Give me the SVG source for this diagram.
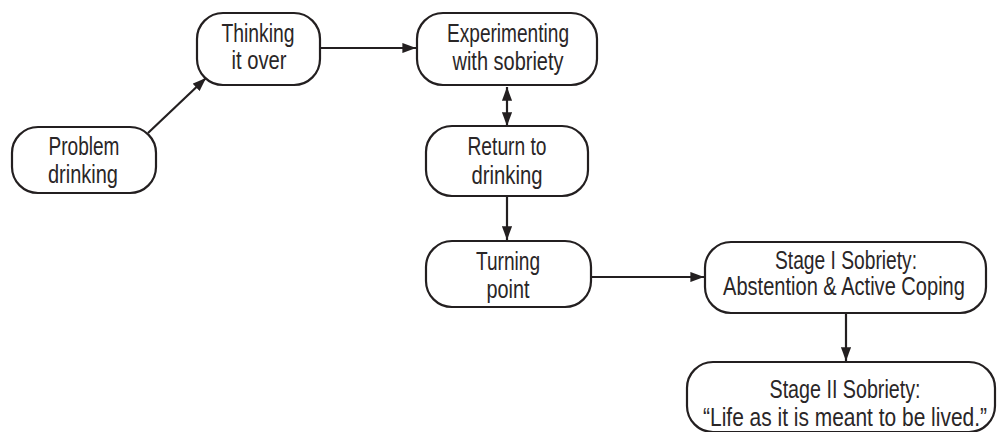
<svg xmlns="http://www.w3.org/2000/svg" width="997" height="432" viewBox="0 0 997 432">
<defs>
<style>
.box{fill:#fff;stroke:#231f20;stroke-width:2.2}
.t{font-family:"Liberation Sans",Arial,sans-serif;font-size:25px;fill:#2a2627;text-anchor:middle}
.c{stroke:#231f20;stroke-width:2.2;fill:none}
</style>
<marker id="ah" viewBox="0 0 10 10" refX="10" refY="5" markerWidth="6.2" markerHeight="4.6" orient="auto-start-reverse" markerUnits="strokeWidth" preserveAspectRatio="none">
<path d="M0,0 L10,5 L0,10 Z" fill="#231f20"/>
</marker>
</defs>
<rect width="997" height="432" fill="#fff"/>
<g id="connectors">
<line class="c" x1="148" y1="133" x2="206" y2="78" marker-end="url(#ah)"/>
<line class="c" x1="320" y1="48" x2="416" y2="48" marker-end="url(#ah)"/>
<line class="c" x1="507" y1="87" x2="507" y2="126" marker-start="url(#ah)" marker-end="url(#ah)"/>
<line class="c" x1="507" y1="196" x2="507" y2="240" marker-end="url(#ah)"/>
<line class="c" x1="591" y1="277" x2="704" y2="277" marker-end="url(#ah)"/>
<line class="c" x1="846" y1="313" x2="846" y2="361" marker-end="url(#ah)"/>
</g>
<g id="problem-drinking">
<rect class="box" x="12" y="127" width="144" height="66" rx="26"/>
<text class="t" x="84" y="155" textLength="71" lengthAdjust="spacingAndGlyphs">Problem</text>
<text class="t" x="83" y="183" textLength="70" lengthAdjust="spacingAndGlyphs">drinking</text>
</g>
<g id="thinking-it-over">
<rect class="box" x="197" y="13" width="123" height="72" rx="26"/>
<text class="t" x="258" y="42" textLength="73" lengthAdjust="spacingAndGlyphs">Thinking</text>
<text class="t" x="259" y="69" textLength="55" lengthAdjust="spacingAndGlyphs">it over</text>
</g>
<g id="experimenting">
<rect class="box" x="417" y="13" width="180" height="72" rx="26"/>
<text class="t" x="508" y="42" textLength="122" lengthAdjust="spacingAndGlyphs">Experimenting</text>
<text class="t" x="508" y="70" textLength="111" lengthAdjust="spacingAndGlyphs">with sobriety</text>
</g>
<g id="return-to-drinking">
<rect class="box" x="426" y="126" width="162" height="70" rx="26"/>
<text class="t" x="507" y="155" textLength="79" lengthAdjust="spacingAndGlyphs">Return to</text>
<text class="t" x="507" y="184" textLength="71" lengthAdjust="spacingAndGlyphs">drinking</text>
</g>
<g id="turning-point">
<rect class="box" x="426" y="241" width="165" height="66" rx="26"/>
<text class="t" x="508" y="270" textLength="64" lengthAdjust="spacingAndGlyphs">Turning</text>
<text class="t" x="508" y="298" textLength="43" lengthAdjust="spacingAndGlyphs">point</text>
</g>
<g id="stage-1">
<rect class="box" x="705" y="242" width="281" height="71" rx="26"/>
<text class="t" x="846" y="269" textLength="142" lengthAdjust="spacingAndGlyphs">Stage I Sobriety:</text>
<text class="t" x="844" y="295" transform="matrix(0.802 0 0 1 167.1 0)">Abstention &amp; Active Coping</text>
</g>
<g id="stage-2">
<rect class="box" x="687" y="362" width="308" height="70" rx="26"/>
<text class="t" x="845" y="398" textLength="151" lengthAdjust="spacingAndGlyphs">Stage II Sobriety:</text>
<text class="t" x="845" y="426" transform="matrix(0.838 0 0 1 136.9 0)">“Life as it is meant to be lived.”</text>
</g>
</svg>
